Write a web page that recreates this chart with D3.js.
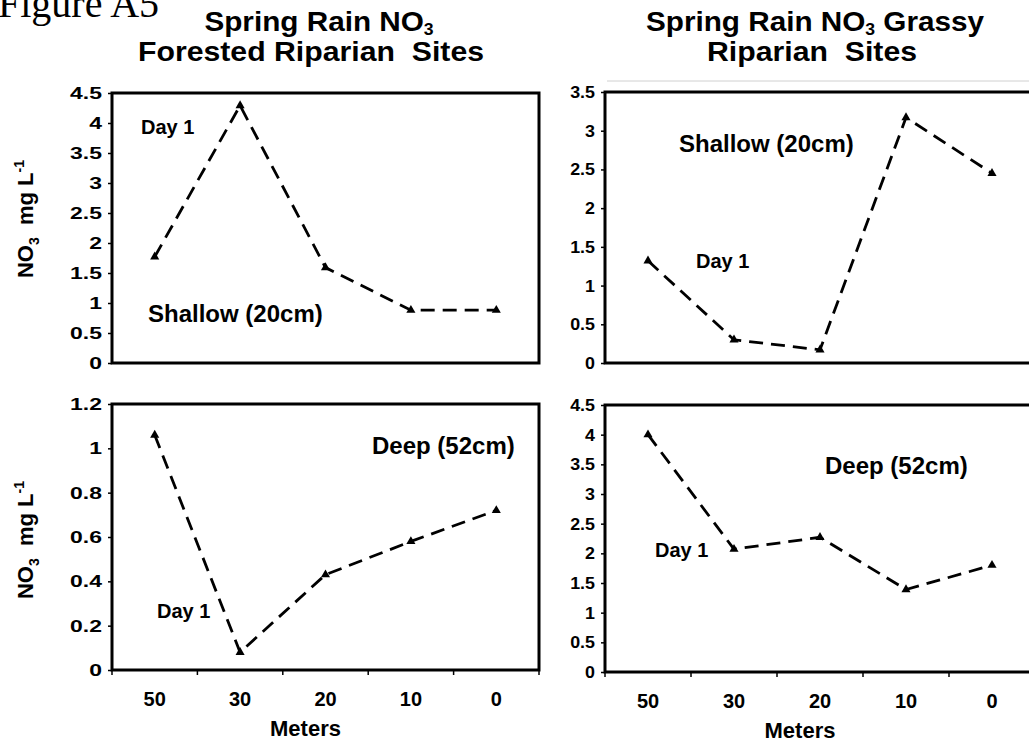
<!DOCTYPE html>
<html lang="en">
<head>
<meta charset="UTF-8">
<title>Spring Rain NO3</title>
<script src="https://d3js.org/d3.v7.min.js"></script>
<style>
    body { margin: 0; background: #fff; }
    svg text { font-family: "Liberation Sans", Arial, sans-serif; font-weight: bold; fill: #000; white-space: pre; }
    .tick line { stroke: #000; stroke-width: 1.5; }
</style>
</head>
<body>
<div id="chart"></div>
<script>
    // distance from stream (categories, left to right)
    const meters = ["50", "30", "20", "10", "0"];

    // NO3 mg/L, day 1 after spring rain
    const forestShallow = [1.77, 4.29, 1.59, 0.88, 0.88];
    const forestDeep = [1.06, 0.08, 0.43, 0.58, 0.72];
    const grassShallow = [1.32, 0.30, 0.17, 3.17, 2.45];
    const grassDeep = [4.00, 2.07, 2.27, 1.39, 1.80];

    // y tick labels per panel
    const ticksForestShallow = [0, 0.5, 1, 1.5, 2, 2.5, 3, 3.5, 4, 4.5];
    const ticksForestDeep = [0, 0.2, 0.4, 0.6, 0.8, 1, 1.2];
    const ticksGrassShallow = [0, 0.5, 1, 1.5, 2, 2.5, 3, 3.5];
    const ticksGrassDeep = [0, 0.5, 1, 1.5, 2, 2.5, 3, 3.5, 4, 4.5];

    const W = 1029, H = 742;

    const svg = d3.select("#chart").append("svg")
        .attr("width", W)
        .attr("height", H);

    // panel layout (tsx = horizontal stretch of the tick labels in the source)
    const panels = [
        { values: forestShallow, ticks: ticksForestShallow, x0: 112, x1: 539, top: 93, bottom: 363, xAxis: false, tsx: 1.35,
          notes: [{ t: "Day 1", x: 141, y: 134, s: 20 }, { t: "Shallow (20cm)", x: 148, y: 322, s: 24 }] },
        { values: grassShallow, ticks: ticksGrassShallow, x0: 605, x1: 1035, top: 92, bottom: 363, xAxis: false, tsx: 1.05,
          notes: [{ t: "Shallow (20cm)", x: 679, y: 152, s: 24 }, { t: "Day 1", x: 696, y: 268, s: 20 }] },
        { values: forestDeep, ticks: ticksForestDeep, x0: 112, x1: 539, top: 404, bottom: 670, xAxis: true, tsx: 1.35,
          notes: [{ t: "Deep (52cm)", x: 372, y: 454, s: 24 }, { t: "Day 1", x: 157, y: 618, s: 20 }] },
        { values: grassDeep, ticks: ticksGrassDeep, x0: 605, x1: 1035, top: 405, bottom: 672, xAxis: true, tsx: 1.05,
          notes: [{ t: "Deep (52cm)", x: 825, y: 474, s: 24 }, { t: "Day 1", x: 655, y: 557, s: 20 }] }
    ];

    const line = d3.line();
    const tri = d3.symbol(d3.symbolTriangle).size(36);

    panels.forEach(function (p) {
        const g = svg.append("g");

        const x = d3.scaleBand().domain(meters).range([p.x0, p.x1]);
        const y = d3.scaleLinear()
            .domain([0, d3.max(p.ticks)])
            .range([p.bottom, p.top]);

        // y axis
        const ya = g.append("g")
            .attr("transform", "translate(" + p.x0 + ",0)")
            .call(d3.axisLeft(y).tickValues(p.ticks).tickSize(4).tickPadding(6).tickFormat(function (d) { return String(d); }));
        ya.select(".domain").remove();
        ya.selectAll("text")
            .style("font-size", "17px")
            .each(function () {
                const w = this.getComputedTextLength();
                d3.select(this)
                    .attr("textLength", w * p.tsx)
                    .attr("lengthAdjust", "spacingAndGlyphs");
            });

        // x axis (bottom row only)
        if (p.xAxis) {
            const xa = g.append("g")
                .attr("transform", "translate(0," + p.bottom + ")")
                .call(d3.axisBottom(x).tickSize(0).tickPadding(22));
            xa.select(".domain").remove();
            xa.selectAll("text").style("font-size", "20px");

            // ticks on category boundaries
            const edges = meters.map(function (m) { return x(m); }).concat([x(meters[meters.length - 1]) + x.bandwidth()]);
            g.selectAll(".edge")
                .data(edges)
                .enter()
                .append("line")
                .attr("x1", function (d) { return d; })
                .attr("x2", function (d) { return d; })
                .attr("y1", p.bottom)
                .attr("y2", p.bottom + 5)
                .attr("stroke", "#000")
                .attr("stroke-width", 1.5);

            g.append("text")
                .attr("x", (p.x0 + p.x1) / 2 - 20)
                .attr("y", p.bottom + 66)
                .attr("text-anchor", "middle")
                .style("font-size", "22px")
                .text("Meters");
        }

        // frame
        g.append("rect")
            .attr("x", p.x0)
            .attr("y", p.top)
            .attr("width", p.x1 - p.x0)
            .attr("height", p.bottom - p.top)
            .attr("fill", "none")
            .attr("stroke", "#000")
            .attr("stroke-width", 3);

        // dashed series
        const pts = p.values.map(function (v, i) { return [x(meters[i]) + x.bandwidth() / 2, y(v)]; });
        g.append("path")
            .attr("d", line(pts))
            .attr("fill", "none")
            .attr("stroke", "#000")
            .attr("stroke-width", 2.8)
            .attr("stroke-dasharray", "14,8");

        g.selectAll(".mark")
            .data(pts)
            .enter()
            .append("path")
            .attr("d", tri)
            .attr("transform", function (d) { return "translate(" + d[0] + "," + d[1] + ")"; })
            .attr("fill", "#000");

        p.notes.forEach(function (n) {
            g.append("text")
                .attr("x", n.x)
                .attr("y", n.y)
                .style("font-size", n.s + "px")
                .text(n.t);
        });
    });

    // y axis titles (left column)
    [219, 540].forEach(function (cy) {
        const t = svg.append("text")
            .attr("transform", "translate(33," + cy + ") rotate(-90)")
            .attr("text-anchor", "middle")
            .style("font-size", "22px");
        t.append("tspan").text("NO");
        t.append("tspan").attr("dy", 6).style("font-size", "14px").text("3");
        t.append("tspan").attr("dy", -6).text("  mg L");
        t.append("tspan").attr("dy", -9).style("font-size", "14px").text("-1");
    });

    // panel column titles (stretched wide like the original)
    function title(cx1, cx2, l1a, l1b, l2) {
        const g1 = svg.append("g").attr("transform", "translate(" + cx1 + ",0) scale(1.1,1)");
        const t1 = g1.append("text").attr("y", 31).attr("text-anchor", "middle").style("font-size", "27px");
        t1.append("tspan").text(l1a);
        t1.append("tspan").attr("dy", 4).style("font-size", "16px").text("3");
        t1.append("tspan").attr("dy", -4).text(l1b);
        svg.append("g").attr("transform", "translate(" + cx2 + ",0) scale(1.12,1)")
            .append("text").attr("y", 61).attr("text-anchor", "middle").style("font-size", "27px").text(l2);
    }
    title(319, 311, "Spring Rain NO", "", "Forested Riparian  Sites");
    title(815, 812, "Spring Rain NO", " Grassy", "Riparian  Sites");

    // thin frame line under right title
    svg.append("line")
        .attr("x1", 607).attr("x2", W)
        .attr("y1", 81).attr("y2", 81)
        .attr("stroke", "#d0d0d0")
        .attr("stroke-width", 1);

    // figure label, clipped at top like the source scan
    svg.append("text")
        .attr("x", -2)
        .attr("y", 17)
        .style("font-family", "'Liberation Serif', 'Times New Roman', serif")
        .style("font-weight", "normal")
        .style("font-size", "40px")
        .text("Figure A5");
</script>
</body>
</html>
